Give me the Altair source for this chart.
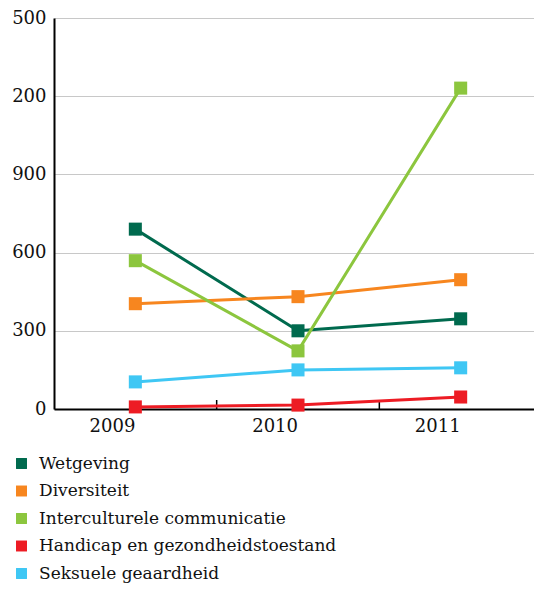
import altair as alt
import pandas as pd

years = ["2009", "2010", "2011"]
series = ["Wetgeving", "Diversiteit", "Interculturele communicatie",
          "Handicap en gezondheidstoestand", "Seksuele geaardheid"]
colors = ["#006a4e", "#f7861f", "#8cc63e", "#ed1c24", "#3fc7f4"]
wetgeving = [690, 300, 346]
diversiteit = [404, 431, 496]
intercultureel = [569, 223, 1231]
handicap = [8, 15, 46]
seksueel = [104, 150, 158]

values = [wetgeving, diversiteit, intercultureel, handicap, seksueel]
rows = []
for s, vals in zip(series, values):
    for y, v in zip(years, vals):
        rows.append({"Jaar": y, "Reeks": s, "Aantal": v})
df = pd.DataFrame(rows)
ticks_df = pd.DataFrame({"Jaar": years[1:]})

FONT = "DejaVu Serif"

xscale = alt.Scale(type="band", domain=years, paddingInner=0, paddingOuter=0, range=[0, 488])
x = alt.X("Jaar:N", scale=xscale,
          axis=alt.Axis(title=None, labelAngle=0, labelFontSize=18, labelColor="#111",
                        ticks=False, domainColor="#000", domainWidth=2, labelPadding=8, grid=False,
                        labelBaseline="top"))
y = alt.Y("Aantal:Q", scale=alt.Scale(domain=[0, 1500], nice=False),
          axis=alt.Axis(title=None, values=[0, 300, 600, 900, 1200, 1500],
                        labelExpr="datum.value % 1000",
                        labelFontSize=18, labelColor="#111", ticks=False,
                        domainColor="#000", domainWidth=2, labelPadding=8,
                        grid=True, gridColor="#c8c8c8", gridWidth=1))
color = alt.Color("Reeks:N", scale=alt.Scale(domain=series, range=colors),
                  legend=alt.Legend(title=None, orient="none", legendX=-41, legendY=437,
                                    symbolType="square", symbolSize=120, symbolStrokeWidth=0,
                                    labelFontSize=17, labelColor="#111",
                                    rowPadding=9.5, symbolOffset=0, labelOffset=9,
                                    labelLimit=400))

ticks = alt.Chart(ticks_df).mark_rule(color="#000", strokeWidth=1.5).encode(
    x=alt.X("Jaar:N", bandPosition=0, scale=xscale),
    y=alt.value(382), y2=alt.value(391))
lines = alt.Chart(df).mark_line(strokeWidth=3).encode(x=x, y=y, color=color)
points = alt.Chart(df).mark_point(shape="square", filled=True, size=170, opacity=1).encode(
    x=x, y=y, color=alt.Color("Reeks:N", scale=alt.Scale(domain=series, range=colors), legend=None))

chart = alt.layer(ticks, lines, points).properties(
    width=480, height=391,
    autosize=alt.AutoSizeParams(type="none"),
    padding={"left": 46, "top": 10, "right": 0, "bottom": 178},
).configure(font=FONT).configure_axis(labelFont=FONT).configure_legend(labelFont=FONT).configure_view(stroke=None)

chart.save("out.html", embed_options={"renderer": "svg", "actions": False})
